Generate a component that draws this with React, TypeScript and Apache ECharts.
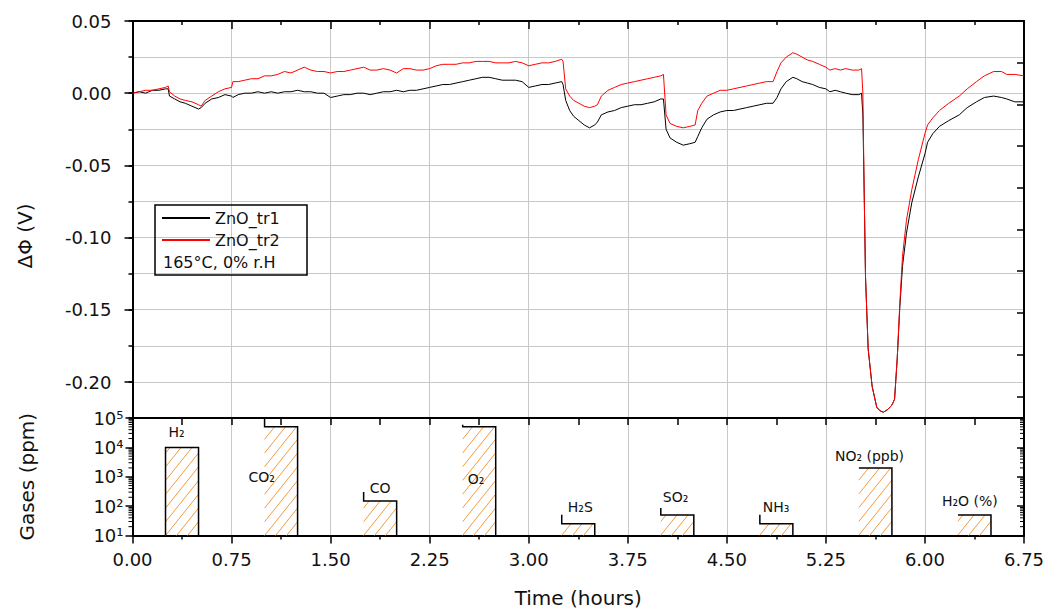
import React, { useEffect, useRef } from 'react';
import * as echarts from 'echarts';

// ---- data: time (hours) and work-function change (V) ----
const timeH = [
  0.00, 0.05, 0.10, 0.15, 0.20, 0.25, 0.27, 0.28, 0.32, 0.36, 0.40, 0.45, 0.50, 0.52, 0.55, 0.60, 0.65, 0.70, 0.75, 0.76,
  0.80, 0.85, 0.90, 0.95, 1.00, 1.05, 1.10, 1.15, 1.20, 1.25, 1.30, 1.35, 1.40, 1.45, 1.50, 1.55, 1.60, 1.65, 1.70, 1.75,
  1.80, 1.85, 1.90, 1.95, 2.00, 2.05, 2.10, 2.15, 2.20, 2.25, 2.30, 2.35, 2.40, 2.45, 2.50, 2.55, 2.60, 2.65, 2.70, 2.75,
  2.80, 2.85, 2.90, 2.95, 3.00, 3.05, 3.10, 3.15, 3.20, 3.25, 3.26, 3.28, 3.31, 3.34, 3.38, 3.42, 3.46, 3.50, 3.52, 3.55,
  3.60, 3.65, 3.70, 3.75, 3.80, 3.85, 3.90, 3.95, 4.00, 4.02, 4.04, 4.07, 4.12, 4.17, 4.22, 4.26, 4.28, 4.31, 4.35, 4.40,
  4.45, 4.50, 4.55, 4.60, 4.65, 4.70, 4.75, 4.80, 4.85, 4.88, 4.91, 4.95, 5.00, 5.03, 5.07, 5.11, 5.15, 5.20, 5.25, 5.28,
  5.32, 5.36, 5.40, 5.45, 5.50, 5.52, 5.53, 5.54, 5.55, 5.57, 5.60, 5.635, 5.66, 5.685, 5.72, 5.75, 5.77, 5.79, 5.81, 5.83,
  5.86, 5.90, 5.95, 6.00, 6.02, 6.06, 6.11, 6.18, 6.26, 6.32, 6.39, 6.45, 6.52, 6.58, 6.62, 6.68, 6.75,
];
const tr1 = [
  0.000, 0.001, 0.000, 0.002, 0.002, 0.003, 0.003, -0.002, -0.004, -0.006, -0.007, -0.009, -0.011, -0.010, -0.007, -0.004, -0.003, -0.001, -0.002, -0.003,
  -0.001, 0.000, 0.000, 0.001, 0.000, 0.001, 0.000, 0.001, 0.001, 0.002, 0.001, 0.001, 0.000, 0.000, -0.003, -0.002, -0.001, -0.001, 0.000, 0.000,
  -0.001, 0.000, 0.001, 0.001, 0.002, 0.001, 0.002, 0.002, 0.003, 0.004, 0.005, 0.006, 0.006, 0.007, 0.008, 0.009, 0.010, 0.011, 0.011, 0.010,
  0.009, 0.009, 0.009, 0.008, 0.004, 0.005, 0.006, 0.006, 0.007, 0.008, 0.006, -0.005, -0.012, -0.016, -0.019, -0.022, -0.024, -0.022, -0.020, -0.015,
  -0.013, -0.012, -0.010, -0.009, -0.008, -0.008, -0.007, -0.006, -0.004, -0.004, -0.025, -0.031, -0.034, -0.036, -0.035, -0.034, -0.030, -0.024, -0.018, -0.015,
  -0.013, -0.012, -0.012, -0.011, -0.010, -0.009, -0.008, -0.007, -0.007, -0.003, 0.003, 0.008, 0.011, 0.010, 0.008, 0.007, 0.006, 0.004, 0.003, 0.001,
  0.002, 0.001, 0.000, -0.001, -0.001, 0.000, -0.015, -0.069, -0.127, -0.177, -0.203, -0.2175, -0.220, -0.221, -0.219, -0.216, -0.212, -0.184, -0.148, -0.120,
  -0.097, -0.076, -0.058, -0.042, -0.034, -0.028, -0.023, -0.019, -0.015, -0.010, -0.006, -0.003, -0.002, -0.003, -0.004, -0.006, -0.006,
];
const tr2 = [
  0.000, 0.001, 0.002, 0.002, 0.003, 0.004, 0.005, 0.001, -0.002, -0.004, -0.005, -0.006, -0.008, -0.009, -0.005, -0.002, 0.001, 0.003, 0.004, 0.008,
  0.008, 0.009, 0.010, 0.010, 0.012, 0.012, 0.013, 0.015, 0.014, 0.016, 0.018, 0.016, 0.015, 0.015, 0.014, 0.015, 0.015, 0.016, 0.017, 0.018,
  0.016, 0.016, 0.017, 0.016, 0.014, 0.017, 0.017, 0.016, 0.016, 0.017, 0.019, 0.020, 0.020, 0.020, 0.021, 0.021, 0.022, 0.022, 0.022, 0.021,
  0.021, 0.021, 0.022, 0.021, 0.019, 0.020, 0.021, 0.021, 0.022, 0.0235, 0.022, 0.003, -0.002, -0.005, -0.007, -0.009, -0.010, -0.009, -0.008, -0.002,
  0.002, 0.004, 0.006, 0.007, 0.008, 0.009, 0.010, 0.011, 0.012, 0.013, -0.015, -0.021, -0.023, -0.024, -0.023, -0.022, -0.012, -0.007, -0.002, 0.000,
  0.002, 0.002, 0.003, 0.004, 0.005, 0.006, 0.007, 0.008, 0.008, 0.015, 0.021, 0.025, 0.028, 0.027, 0.025, 0.023, 0.022, 0.020, 0.018, 0.016,
  0.017, 0.016, 0.017, 0.016, 0.016, 0.017, 0.000, -0.069, -0.127, -0.177, -0.203, -0.2175, -0.220, -0.221, -0.219, -0.216, -0.212, -0.184, -0.145, -0.113,
  -0.088, -0.067, -0.046, -0.028, -0.022, -0.017, -0.012, -0.007, -0.002, 0.003, 0.008, 0.012, 0.015, 0.015, 0.013, 0.013, 0.012,
];

// ---- data: gas exposures ----
const gasNames = ['H₂', 'CO₂', 'CO', 'O₂', 'H₂S', 'SO₂', 'NH₃', 'NO₂ (ppb)', 'H₂O (%)'];
const gasStart = [0.25, 1.0, 1.75, 2.5, 3.25, 4.0, 4.75, 5.5, 6.25];
const gasEnd = [0.5, 1.25, 2.0, 2.75, 3.5, 4.25, 5.0, 5.75, 6.5];
const gasConc = [10000, 50000, 150, 50000, 25, 50, 25, 2000, 50];

// minor tick values of the log axis
const logMinorTicks = [
  20, 30, 40, 50, 60, 70, 80, 90,
  200, 300, 400, 500, 600, 700, 800, 900,
  2000, 3000, 4000, 5000, 6000, 7000, 8000, 9000,
  20000, 30000, 40000, 50000, 60000, 70000, 80000, 90000,
];

// ---- styling (positions of labels relative to bar, not data) ----
const labelOffsets = [[3, -15], [-16, 50], [6, -13], [5, 52], [6, -17], [2, -18], [3, -17], [-24, -12], [-16, -14]];
const bracketLen = [8, 9, 9, 2, 9, 7, 9, 0, 0];
const fullLeftEdge = [true, false, false, false, false, false, false, false, false];

const FONT = 'DejaVu Sans';
const GRID_COLOR = '#c8c8c8';
const ORANGE = '#f59a3c';
const SUP = ['⁰', '¹', '²', '³', '⁴', '⁵', '⁶'];

const G_LEFT = 132.5;
const G_WIDTH = 891.5;

export default function App() {
  const ref = useRef<HTMLDivElement>(null);

  useEffect(() => {
    if (!ref.current) return;
    const chart = echarts.init(ref.current, undefined, { renderer: 'svg' });

    const lineData1 = timeH.map((t, i) => [t, tr1[i]]);
    const lineData2 = timeH.map((t, i) => [t, tr2[i]]);
    const barData = gasNames.map((_, i) => [gasStart[i], gasEnd[i], gasConc[i], i]);

    const axisLineStyle = { lineStyle: { color: '#000', width: 2 } };

    const option: any = {
      animation: false,
      backgroundColor: '#fff',
      grid: [
        { left: G_LEFT, top: 21, width: G_WIDTH, height: 397 },
        { left: G_LEFT, top: 418, width: G_WIDTH, height: 117.5 },
        { left: G_LEFT, top: 21, width: G_WIDTH, height: 361 },
      ],
      xAxis: [
        {
          type: 'value', gridIndex: 0, position: 'top', min: 0, max: 6.75, interval: 0.75,
          axisLine: { show: true, onZero: false, ...axisLineStyle },
          axisTick: { show: true, inside: true, length: 8, lineStyle: { color: '#000', width: 1.5 } },
          minorTick: { show: true, splitNumber: 2, length: 4, lineStyle: { color: '#000', width: 1.5 } },
          axisLabel: { show: false },
          splitLine: { show: true, lineStyle: { color: GRID_COLOR, width: 1 } },
        },
        {
          type: 'value', gridIndex: 1, position: 'bottom', min: 0, max: 6.75, interval: 0.75,
          axisLine: { show: true, onZero: false, ...axisLineStyle },
          axisTick: { show: true, inside: false, length: 8, lineStyle: { color: '#000', width: 1.5 } },
          minorTick: { show: true, splitNumber: 2, length: 4, lineStyle: { color: '#000', width: 1.5 } },
          axisLabel: {
            show: true, margin: 15, fontFamily: FONT, fontSize: 18, color: '#111',
            formatter: (v: number) => v.toFixed(2),
          },
          splitLine: { show: true, lineStyle: { color: GRID_COLOR, width: 1 } },
          name: 'Time (hours)', nameLocation: 'middle', nameGap: 52,
          nameTextStyle: { fontFamily: FONT, fontSize: 20, color: '#111' },
        },
        {
          type: 'value', gridIndex: 1, position: 'top', min: 0, max: 6.75, interval: 0.375,
          axisLine: { show: true, onZero: false, ...axisLineStyle },
          axisTick: { show: true, inside: true, length: 7, lineStyle: { color: '#000', width: 1.5 } },
          axisLabel: { show: false },
          splitLine: { show: false },
        },
        { type: 'value', gridIndex: 2, min: 0, max: 6.75, show: false },
      ],
      yAxis: [
        {
          type: 'value', gridIndex: 0, position: 'left', min: -0.225, max: 0.05, interval: 0.025,
          axisLine: { show: true, onZero: false, ...axisLineStyle },
          axisTick: { show: true, inside: false, length: 4, lineStyle: { color: '#000', width: 1.5 } },
          axisLabel: { show: false },
          splitLine: { show: true, lineStyle: { color: GRID_COLOR, width: 1 } },
        },
        {
          type: 'value', gridIndex: 0, position: 'right', inverse: true, min: 0, max: 9.52, interval: 1,
          axisLine: { show: true, onZero: false, ...axisLineStyle },
          axisTick: { show: true, inside: true, length: 7, lineStyle: { color: '#000', width: 1.5 } },
          axisLabel: { show: false },
          splitLine: { show: false },
        },
        {
          type: 'log', logBase: 10, gridIndex: 1, position: 'left', min: 10, max: 100000,
          axisLine: { show: true, onZero: false, ...axisLineStyle },
          axisTick: { show: true, inside: false, length: 7, lineStyle: { color: '#000', width: 1.5 } },
          axisLabel: {
            show: true, margin: 9, fontFamily: FONT, fontSize: 18, color: '#111',
            formatter: (v: number) => '10' + SUP[Math.round(Math.log10(v))],
          },
          splitLine: { show: false },
          name: 'Gases (ppm)', nameLocation: 'middle', nameGap: 96,
          nameTextStyle: { fontFamily: FONT, fontSize: 20, color: '#111' },
        },
        {
          type: 'log', logBase: 10, gridIndex: 1, position: 'right', min: 10, max: 100000,
          axisLine: { show: true, onZero: false, ...axisLineStyle },
          axisTick: { show: true, inside: true, length: 7, lineStyle: { color: '#000', width: 1.5 } },
          axisLabel: { show: false },
          splitLine: { show: false },
        },
        {
          type: 'value', gridIndex: 2, position: 'left', min: -0.2, max: 0.05, interval: 0.05,
          axisLine: { show: false },
          axisTick: { show: true, inside: false, length: 8, lineStyle: { color: '#000', width: 1.5 } },
          axisLabel: {
            show: true, margin: 21, fontFamily: FONT, fontSize: 18, color: '#111',
            formatter: (v: number) => (Math.abs(v) < 1e-9 ? '0.00' : v.toFixed(2)),
          },
          splitLine: { show: false },
        },
      ],
      legend: {
        data: ['ZnO_tr1', 'ZnO_tr2'],
        orient: 'vertical', left: 162, top: 209, padding: 0,
        itemWidth: 48, itemHeight: 2, itemGap: 4, icon: 'rect',
        textStyle: { fontFamily: FONT, fontSize: 16, color: '#111', lineHeight: 18 },
      },
      graphic: [
        {
          type: 'rect', shape: { x: 155, y: 205, width: 152, height: 70 },
          style: { fill: 'none', stroke: '#000', lineWidth: 1.5 }, z: 10,
        },
        {
          type: 'text', x: 163, y: 262, z: 10,
          style: { text: '165°C, 0% r.H', fontFamily: FONT, fontSize: 16, fill: '#111', align: 'left', verticalAlign: 'middle' },
        },
        {
          type: 'text', x: 25, y: 236, rotation: Math.PI / 2, z: 10,
          style: { text: 'ΔΦ (V)', fontFamily: FONT, fontSize: 20, fill: '#111', align: 'center', verticalAlign: 'middle' },
        },
      ],
      series: [
        {
          name: 'ZnO_tr1', type: 'line', xAxisIndex: 0, yAxisIndex: 0,
          data: lineData1, showSymbol: false, symbol: 'none',
          lineStyle: { color: '#000', width: 1 }, itemStyle: { color: '#000' },
        },
        {
          name: 'ZnO_tr2', type: 'line', xAxisIndex: 0, yAxisIndex: 0,
          data: lineData2, showSymbol: false, symbol: 'none',
          lineStyle: { color: '#ff0000', width: 1 }, itemStyle: { color: '#ff0000' },
        },
        {
          name: 'gases', type: 'custom', xAxisIndex: 1, yAxisIndex: 2,
          data: barData, clip: false, silent: true,
          renderItem: (params: any, api: any) => {
            const s = api.value(0), e = api.value(1), v = api.value(2), i = api.value(3);
            const tl = api.coord([s, v]);
            const br = api.coord([e, 10]);
            const x0 = tl[0], y0 = tl[1], x1 = br[0], y1 = br[1];
            const children: any[] = [];
            const k = 1.25, step = 11 * k;
            const cStart = Math.ceil((k * x0 + y0) / step) * step;
            for (let c = cStart; c <= k * x1 + y1; c += step) {
              const xa = Math.max(x0, (c - y1) / k);
              const xb = Math.min(x1, (c - y0) / k);
              if (xb > xa + 0.5) {
                children.push({
                  type: 'line',
                  shape: { x1: xa, y1: c - k * xa, x2: xb, y2: c - k * xb },
                  style: { stroke: ORANGE, lineWidth: 1 },
                });
              }
            }
            const bl = bracketLen[i];
            children.push({
              type: 'polyline',
              shape: { points: [[x0, fullLeftEdge[i] ? y1 : y0 - bl], [x0, y0], [x1, y0], [x1, y1]] },
              style: { stroke: '#000', lineWidth: 1.5, fill: 'none' },
            });
            const off = labelOffsets[i];
            children.push({
              type: 'text', x: x0 + off[0], y: y0 + off[1],
              style: {
                text: gasNames[i], fontFamily: FONT, fontSize: 14, fill: '#111',
                align: 'left', verticalAlign: 'middle',
              },
            });
            return { type: 'group', children };
          },
        },
        {
          name: 'logMinor', type: 'custom', xAxisIndex: 1, yAxisIndex: 2,
          data: logMinorTicks.map((v) => [0, v]), clip: false, silent: true,
          renderItem: (params: any, api: any) => {
            const v = api.value(1);
            const pl = api.coord([0, v]);
            const pr = api.coord([6.75, v]);
            return {
              type: 'group',
              children: [
                { type: 'line', shape: { x1: pl[0] - 4, y1: pl[1], x2: pl[0], y2: pl[1] }, style: { stroke: '#000', lineWidth: 1 } },
                { type: 'line', shape: { x1: pr[0] - 4, y1: pr[1], x2: pr[0], y2: pr[1] }, style: { stroke: '#000', lineWidth: 1 } },
              ],
            };
          },
        },
      ],
    };

    chart.setOption(option);
    return () => {
      chart.dispose();
    };
  }, []);

  return (
    <div
      ref={ref}
      style={{ position: 'absolute', left: 0, top: 0, width: 1056, height: 614, background: '#fff' }}
    />
  );
}
